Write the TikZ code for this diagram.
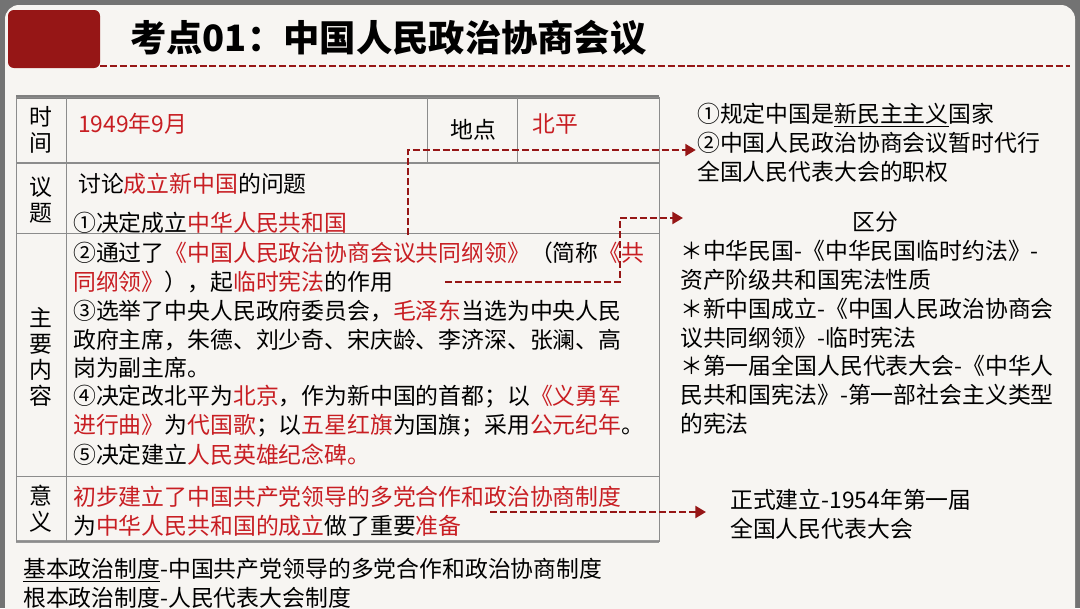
\documentclass[tikz,border=0pt]{standalone}
\usepackage{fontspec}
\setmainfont{Noto Sans CJK SC}
\usetikzlibrary{arrows.meta}
\definecolor{rd}{RGB}{200,30,35}
\definecolor{dr}{RGB}{150,22,22}
\definecolor{card}{RGB}{247,245,242}
\newcommand{\R}[1]{\textcolor{rd}{#1}}
\begin{document}
\begin{tikzpicture}[x=0.03cm,y=-0.03cm,
  txt/.style={anchor=west,inner sep=0pt,font=\fontsize{19.5}{22}\selectfont},
  grid/.style={draw=black!45,line width=0.6pt},
  dsh/.style={draw=dr,line width=2.4pt,dash pattern=on 6pt off 2.5pt,-{Triangle[length=9pt,width=10pt]}}]
\useasboundingbox (0,0) rectangle (1080,608);
\fill[black!55] (0,0) rectangle (1080,608);
\fill[card,rounded corners=12pt] (5,5) rectangle (1075,640);
\fill[dr,rounded corners=5pt] (8,10) rectangle (100,68);
\node[anchor=west,inner sep=0pt,font=\fontsize{31}{34}\selectfont\bfseries] (title) at (130,38) {考点01：中国人民政治协商会议};
\draw[dr,line width=2.4pt,dash pattern=on 6pt off 2.5pt] (80,66) -- (1070,66);
% table
\fill[black!50] (16,95) rectangle (659,99);
\fill[black!40] (16,540) rectangle (659,543);
\draw[grid] (16,97) rectangle (659,541);
\draw[grid] (66,97) -- (66,541);
\draw[grid] (427,97) -- (427,163) (517,97) -- (517,163);
\draw[grid,line width=1.5pt] (16,163) -- (659,163);
\draw[grid] (16,233) -- (659,233) (16,476) -- (659,476);
\node[txt,align=center,anchor=center] (h1) at (41,130) {时\\间};
\node[txt,align=center,anchor=center] (h2) at (41,200) {议\\题};
\node[txt,align=center,anchor=center] (h3) at (41,357) {主\\要\\内\\容};
\node[txt,align=center,anchor=center] (h4) at (41,509) {意\\义};
\node[txt] (t1) at (78,124) {\R{1949年9月}};
\node[txt] (dd) at (450,130) {地点};
\node[txt] (bp) at (532,124) {\R{北平}};
\node[txt] (y1) at (78,184) {讨论\R{成立新中国}的问题};
\node[txt] (y2) at (73,223) {①决定成立\R{中华人民共和国}};
\node[txt] (c1) at (73,253) {②通过了\R{《中国人民政治协商会议共同纲领》}（简称\R{《共}};
\node[txt] (c2) at (73,282) {\R{同纲领》}），起\R{临时宪法}的作用};
\node[txt] (c3) at (73,311) {③选举了中央人民政府委员会，\R{毛泽东}当选为中央人民};
\node[txt] (c4) at (73,340) {政府主席，朱德、刘少奇、宋庆龄、李济深、张澜、高};
\node[txt] (c5) at (73,368) {岗为副主席。};
\node[txt] (c6) at (73,397) {④决定改北平为\R{北京}，作为新中国的首都；以\R{《义勇军}};
\node[txt] (c7) at (73,426) {\R{进行曲》}为\R{代国歌}；以\R{五星红旗}为国旗；采用\R{公元纪年}。};
\node[txt] (c8) at (73,455) {⑤决定建立\R{人民英雄纪念碑。}};
\node[txt] (s1) at (73,497) {\R{初步建立了中国共产党领导的多党合作和政治协商制度}};
\node[txt] (s2) at (73,526) {为\R{中华人民共和国的成立}做了重要\R{准备}};
\node[txt] (b1) at (23,570) {\underline{基本政治制度}-中国共产党领导的多党合作和政治协商制度};
\node[txt] (b2) at (23,598) {根本政治制度-人民代表大会制度};
% right texts
\node[txt] (r1) at (697,115) {①规定中国是\underline{新民主主义}国家};
\node[txt] (r2) at (697,143) {②中国人民政治协商会议暂时代行};
\node[txt] (r3) at (697,172) {全国人民代表大会的职权};
\node[txt,anchor=center] (qf) at (875,222) {区分};
\node[txt] (q1) at (680,251) {＊中华民国-《中华民国临时约法》-};
\node[txt] (q2) at (680,280) {资产阶级共和国宪法性质};
\node[txt] (q3) at (680,309) {＊新中国成立-《中国人民政治协商会};
\node[txt] (q4) at (680,338) {议共同纲领》-临时宪法};
\node[txt] (q5) at (680,366) {＊第一届全国人民代表大会-《中华人};
\node[txt] (q6) at (680,395) {民共和国宪法》-第一部社会主义类型};
\node[txt] (q7) at (680,424) {的宪法};
\node[txt] (z1) at (730,500) {正式建立-1954年第一届};
\node[txt] (z2) at (730,529) {全国人民代表大会};
% arrows
\coordinate (a0) at (408,235);
\draw[dsh] (a0) |- ([xshift=-1pt]r2.west |- 0,150);
\coordinate (b0) at (445,282);
\draw[dsh] (b0) -- (620,282) |- (683,218);
\coordinate (c0) at (490,512);
\draw[dsh] (c0) -- (706,512);
\end{tikzpicture}
\end{document}
